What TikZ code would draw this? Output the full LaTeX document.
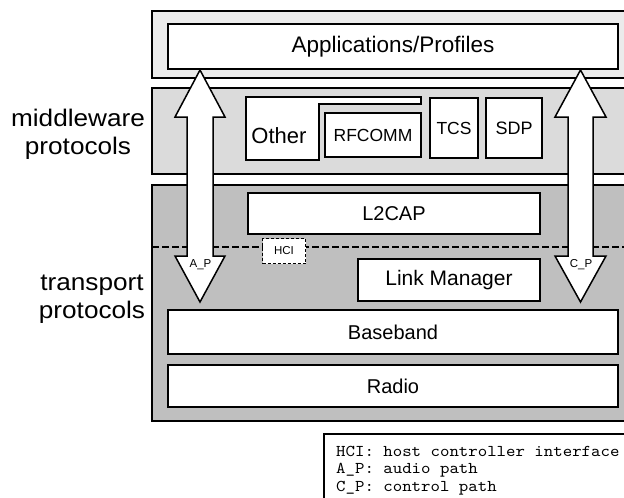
\documentclass[tikz,border=0pt]{standalone}
\usepackage{fontspec}
\setmainfont{Liberation Sans}
\newfontfamily\sidefont[FakeStretch=1.09]{Liberation Sans}
\newfontfamily\legendfont{lmmono10-regular}[Extension=.otf, FakeStretch=1.09]
\definecolor{appbg}{gray}{0.92}
\definecolor{midbg}{gray}{0.86}
\definecolor{lowbg}{gray}{0.75}
\begin{document}
\begin{tikzpicture}[x=1pt,y=-1pt,
  layer/.style={draw=black, line width=2pt, anchor=north west, inner sep=0pt},
  blk/.style={draw=black, fill=white, line width=2pt, anchor=north west, inner sep=0pt,
    font=\fontsize{20}{24}\selectfont},
  sidelabel/.style={align=center, inner sep=0pt,
    font=\sidefont\fontsize{24}{28}\selectfont},
  pathlabel/.style={inner sep=0pt, font=\fontsize{11.5}{13}\selectfont},
  blockarrow/.style={draw=black, fill=white, line width=1.5pt, line join=miter}
]
\useasboundingbox (0,0) rectangle (624,498);
\clip (0,0) rectangle (624,498);

% protocol layers
\node[layer, fill=appbg, minimum width=489pt, minimum height=67.5pt] (applayer) at (151,9.5) {};
\node[layer, fill=midbg, minimum width=489pt, minimum height=86pt] (midlayer) at (151,87) {};
\node[layer, fill=lowbg, minimum width=489pt, minimum height=236pt] (lowlayer) at (151,184) {};

% host / controller boundary
\coordinate (bndL) at (152,247);
\coordinate (bndR) at (640,247);
\draw[line width=1.8pt, dash pattern=on 7pt off 3pt] (bndL) -- (bndR);

% blocks
\node[blk, minimum width=450pt, minimum height=45pt, font=\fontsize{22.5}{26}\selectfont] (apps) at (167,23) {Applications/Profiles};
\draw[line width=2pt, fill=white, line join=miter]
  (246,97) -- (421,97) -- (421,104) -- (319,104) -- (319,160) -- (246,160) -- cycle;
\node[inner sep=0pt, font=\fontsize{22}{26}\selectfont] (other) at (279,136) {Other};
\node[blk, minimum width=96pt, minimum height=44pt, font=\fontsize{17.5}{20}\selectfont] (rfcomm) at (324,112) {RFCOMM};
\node[blk, minimum width=48pt, minimum height=60pt, font=\fontsize{17.5}{20}\selectfont] (tcs) at (429,97) {TCS};
\node[blk, minimum width=56pt, minimum height=60pt, font=\fontsize{18}{20}\selectfont] (sdp) at (485,97) {SDP};
\node[blk, minimum width=292pt, minimum height=41pt] (l2cap) at (247,192) {L2CAP};
\node[blk, minimum width=182pt, minimum height=42pt, font=\fontsize{21}{24}\selectfont] (lm) at (357,258) {Link Manager};
\node[blk, minimum width=450pt, minimum height=44pt] (baseband) at (167,309) {Baseband};
\node[blk, minimum width=450pt, minimum height=42pt] (radio) at (167,364) {Radio};

% audio and control paths
\draw[blockarrow] (200,70) -- (225,117) -- (213,117) -- (213,256) -- (225,256) -- (200,302)
  -- (175,256) -- (187,256) -- (187,117) -- (175,117) -- cycle;
\draw[blockarrow] (580.5,70) -- (606,117) -- (593,117) -- (593,256) -- (606,256) -- (580.5,302)
  -- (555,256) -- (568,256) -- (568,117) -- (555,117) -- cycle;
\node[pathlabel] (ap) at (200.5,265) {A\_P};
\node[pathlabel] (cp) at (581,265) {C\_P};

% host controller interface
\node[draw=black, fill=white, line width=1pt, dash pattern=on 3pt off 2pt, anchor=north west,
  minimum width=43pt, minimum height=25pt, inner sep=0pt, font=\fontsize{11.5}{13}\selectfont] (hci) at (262,238) {HCI};

% side labels
\node[sidelabel] (mw) at (78,134.5) {middleware\\protocols};
\node[sidelabel] (tp) at (92,299) {transport\\protocols};

% legend
\node[layer, fill=white, line width=1.5pt, minimum width=320pt, minimum height=80pt] (legendbox) at (323,433) {};
\node[anchor=north west, inner sep=0pt, align=left,
  font=\legendfont\fontsize{16.5}{17.5}\selectfont] (legend) at (336,446)
  {HCI: host controller interface\\A\_P: audio path\\C\_P: control path};
\end{tikzpicture}
\end{document}
